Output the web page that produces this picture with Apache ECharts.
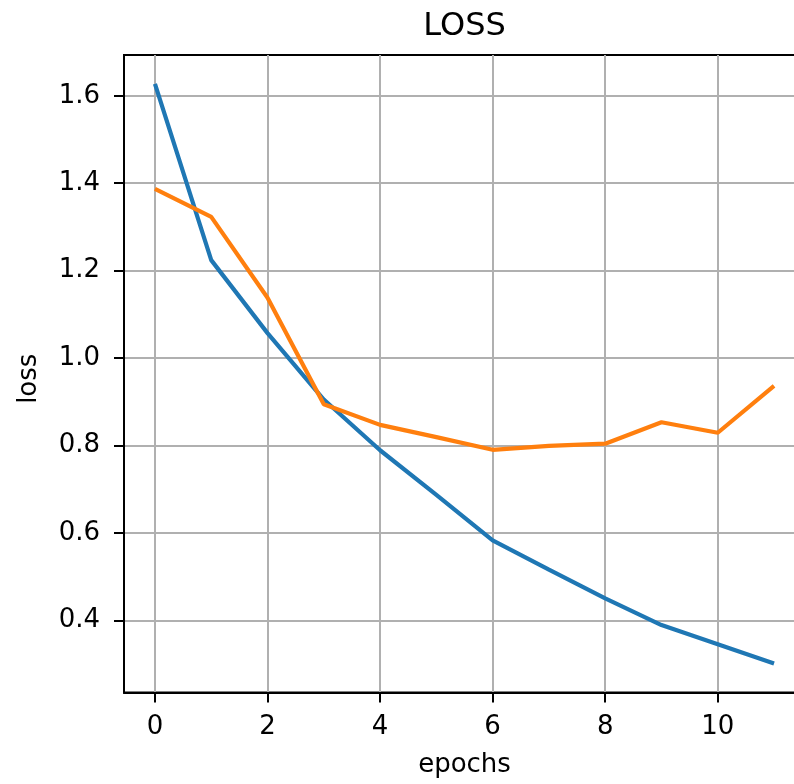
<!DOCTYPE html>
<html>
<head>
<meta charset="utf-8">
<script src="https://cdn.jsdelivr.net/npm/echarts@6/dist/echarts.min.js"></script>
<style>
html,body{margin:0;padding:0;background:#fff;overflow:hidden;width:794px;height:784px;}
#chart{width:812px;height:784px;}
</style>
</head>
<body>
<div id="chart"></div>
<script>
const epochs = [0,1,2,3,4,5,6,7,8,9,10,11];
const trainLoss = [1.627,1.224,1.057,0.905,0.789,0.687,0.583,0.516,0.450,0.389,0.345,0.301];
const valLoss = [1.387,1.323,1.138,0.894,0.847,0.819,0.790,0.799,0.804,0.853,0.829,0.936];
const xTicks = [0,2,4,6,8,10];
const yTicks = [0.4,0.6,0.8,1.0,1.2,1.4,1.6];

const font = 'DejaVu Sans';
const chart = echarts.init(document.getElementById('chart'), null, {renderer:'canvas'});
chart.setOption({
  animation:false,
  backgroundColor:'#fff',
  title:{text:'LOSS', left:459.5, textAlign:'center', top:6,
    textStyle:{fontFamily:font, fontSize:32, fontWeight:'normal', color:'#000'}},
  grid:{left:124, top:55, right:7, bottom:91.5, show:true, borderColor:'#000', borderWidth:2, backgroundColor:'transparent'},
  xAxis:{type:'value', min:-0.55, max:11.55,
    name:'epochs', nameLocation:'middle', nameGap:60,
    nameTextStyle:{fontFamily:font, fontSize:26, color:'#000'},
    axisLine:{onZero:false, lineStyle:{color:'#000', width:2}},
    axisTick:{show:true, length:10, lineStyle:{color:'#000', width:2}, customValues:xTicks},
    axisLabel:{customValues:xTicks, fontFamily:font, fontSize:26, color:'#000', margin:22},
    splitLine:{show:true, lineStyle:{color:'#b0b0b0', width:2}}
  },
  yAxis:{type:'value', min:0.2347, max:1.6933,
    name:'loss', nameLocation:'middle', nameGap:82, nameRotate:90,
    nameTextStyle:{fontFamily:font, fontSize:26, color:'#000', padding:[0,10,0,0]},
    axisLine:{show:true, onZero:false, lineStyle:{color:'#000', width:2}},
    axisTick:{show:true, length:10, lineStyle:{color:'#000', width:2}, customValues:yTicks},
    axisLabel:{customValues:yTicks, fontFamily:font, fontSize:26, color:'#000', margin:24,
      formatter:v=>Number(v).toFixed(1)},
    splitLine:{show:true, lineStyle:{color:'#b0b0b0', width:2}}
  },
  series:[
    {type:'line', data:epochs.map((e,i)=>[e,trainLoss[i]]), showSymbol:false,
      lineStyle:{color:'#1f77b4', width:4.2}, itemStyle:{color:'#1f77b4'}},
    {type:'line', data:epochs.map((e,i)=>[e,valLoss[i]]), showSymbol:false,
      lineStyle:{color:'#ff7f0e', width:4.2}, itemStyle:{color:'#ff7f0e'}}
  ]
});
</script>
</body>
</html>
